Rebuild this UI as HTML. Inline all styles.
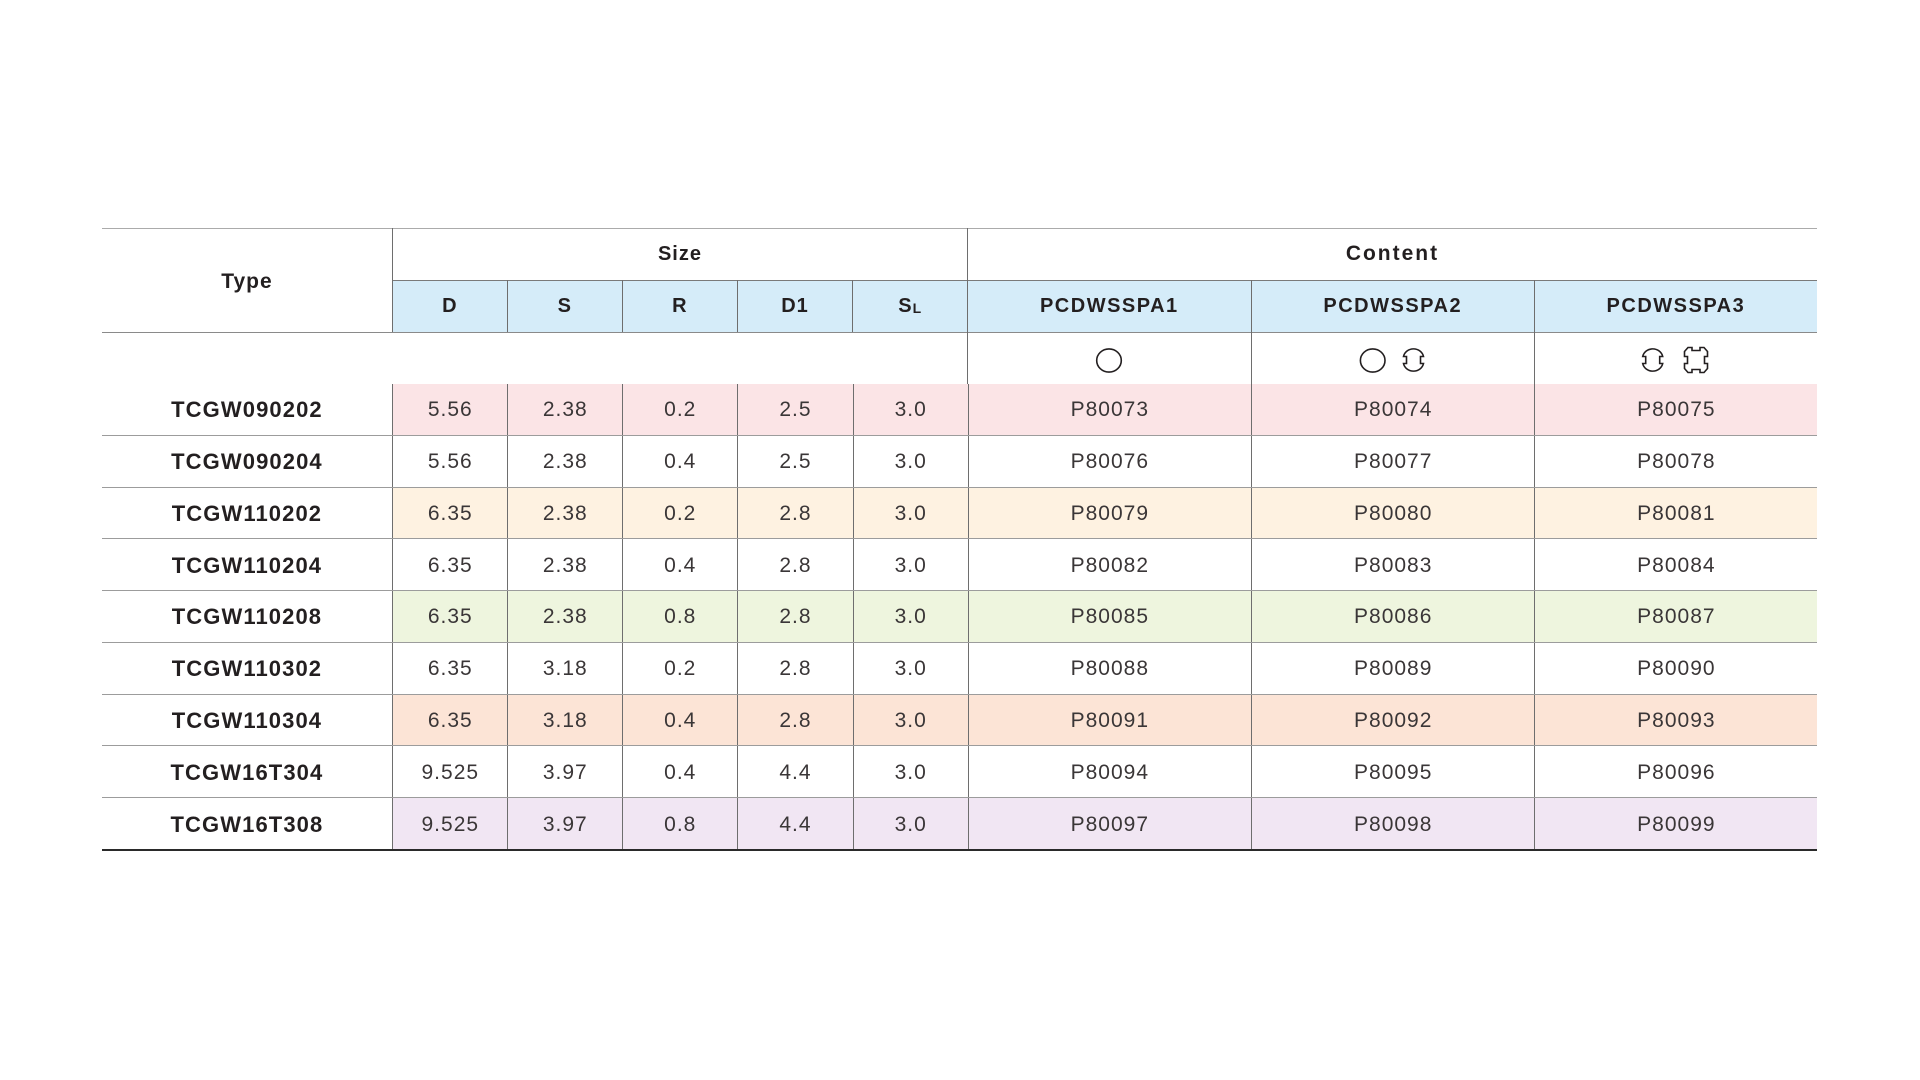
<!DOCTYPE html>
<html>
<head>
<meta charset="utf-8">
<style>
  html, body { margin:0; padding:0; background:#fff; }
  body { width:1920px; height:1080px; position:relative; overflow:hidden;
         font-family:"Liberation Sans", "DejaVu Sans", sans-serif; color:#231f20; }
  .abs { position:absolute; }
  .hl { position:absolute; height:1px; background:#a5a5a5; }
  .vl { position:absolute; width:1px; background:#6e6e6e; }
  .c { position:absolute; display:flex; align-items:center; justify-content:center; box-sizing:border-box; white-space:nowrap; }
  .hb { font-weight:bold; font-size:20px; letter-spacing:1px; }
  .row { position:absolute; left:101.6px; width:1715.7px; height:51.75px; display:grid;
         grid-template-columns:290.7px 115px 115px 115px 115.4px 115px 283.3px 283.5px 282.8px;
         box-sizing:border-box; border-bottom:1px solid #9c9c9c; }
  .row > div { display:flex; align-items:center; justify-content:center; box-sizing:border-box;
               border-left:1px solid #6e6e6e; font-size:21px; letter-spacing:1px; color:#3a3637; padding-top:2px; }
  .row > div:first-child { border-left:none; background:#fff !important; font-weight:bold; font-size:22px; letter-spacing:1.1px; color:#231f20; }
  .pink > div { background:#fbe4e6; }
  .yel > div { background:#fef2e1; }
  .grn > div { background:#eef5de; }
  .pch > div { background:#fce4d6; }
  .lav > div { background:#f1e6f3; }
  .last { border-bottom:2px solid #2a2a2a; }
</style>
</head>
<body>

<!-- header backgrounds -->
<div class="abs" style="left:392.3px; top:280.4px; width:1425px; height:51.6px; background:#d5ecf9;"></div>

<!-- header horizontal lines -->
<div class="hl" style="left:101.6px; top:227.5px; width:1715.7px; background:#ababab;"></div>
<div class="hl" style="left:392.3px; top:280px; width:1425px; background:#7a7a7a;"></div>
<div class="hl" style="left:101.6px; top:331.5px; width:1715.7px; background:#8a8a8a;"></div>
<div class="hl" style="left:101.6px; top:383.5px; width:1715.7px; background:#9c9c9c;"></div>

<!-- header vertical lines -->
<div class="vl" style="left:392px; top:228px; height:104px;"></div>
<div class="vl" style="left:967.4px; top:228px; height:156px;"></div>
<div class="vl" style="left:507px; top:280.4px; height:51.6px;"></div>
<div class="vl" style="left:622px; top:280.4px; height:51.6px;"></div>
<div class="vl" style="left:737px; top:280.4px; height:51.6px;"></div>
<div class="vl" style="left:852.4px; top:280.4px; height:51.6px;"></div>
<div class="vl" style="left:1250.7px; top:280.4px; height:103.6px;"></div>
<div class="vl" style="left:1534.2px; top:280.4px; height:103.6px;"></div>

<!-- header texts -->
<div class="c hb" style="left:101.6px; top:230px; width:290.7px; height:104px; font-size:21px;">Type</div>
<div class="c hb" style="left:392.3px; top:228px; width:575.4px; height:52px;">Size</div>
<div class="c hb" style="left:967.7px; top:228px; width:849.6px; height:52px; font-size:21px; letter-spacing:2px;">Content</div>

<div class="c hb" style="left:392.3px; top:280.4px; width:115px; height:51.6px;">D</div>
<div class="c hb" style="left:507.3px; top:280.4px; width:115px; height:51.6px;">S</div>
<div class="c hb" style="left:622.3px; top:280.4px; width:115px; height:51.6px;">R</div>
<div class="c hb" style="left:737.3px; top:280.4px; width:115.4px; height:51.6px;">D1</div>
<div class="c hb" style="left:852.7px; top:280.4px; width:115px; height:51.6px;">S<span style="font-size:14px; margin-top:4px;">L</span></div>
<div class="c hb" style="left:967.7px; top:280.4px; width:283.3px; height:51.6px; letter-spacing:1.5px;">PCDWSSPA1</div>
<div class="c hb" style="left:1251px; top:280.4px; width:283.5px; height:51.6px; letter-spacing:1.5px;">PCDWSSPA2</div>
<div class="c hb" style="left:1534.5px; top:280.4px; width:282.8px; height:51.6px; letter-spacing:1.5px;">PCDWSSPA3</div>

<!-- icons -->
<svg class="abs" style="left:0; top:0;" width="1920" height="1080" viewBox="0 0 1920 1080">
  <g fill="none" stroke="#231f20" stroke-width="1.6">
    <ellipse cx="1109" cy="360.5" rx="12.3" ry="11.6"/>
    <ellipse cx="1372.7" cy="360.5" rx="12.3" ry="11.6"/>
    <g transform="translate(1413.5,360)">
      <path d="M -10,-3.5 A 10.2 9.5 0 0 1 10,-3.5 L 7,-3.5 L 7,3.5 L 10,3.5 A 10.2 9.5 0 0 1 -10,3.5 L -7,3.5 L -7,-3.5 Z"/>
    </g>
    <g transform="translate(1652.7,360)">
      <path d="M -10,-3.5 A 10.2 9.5 0 0 1 10,-3.5 L 7,-3.5 L 7,3.5 L 10,3.5 A 10.2 9.5 0 0 1 -10,3.5 L -7,3.5 L -7,-3.5 Z"/>
    </g>
    <g transform="translate(1696,360)">
      <path d="M -8,-12.5 L -4,-12.5 L -4,-9.5 L 4,-9.5 L 4,-12.5 L 8,-12.5 L 11.5,-8.5 L 11.5,-3.5 L 8.5,-3.5 L 8.5,3.5 L 11.5,3.5 L 11.5,8.5 L 8,12.5 L 4,12.5 L 4,9.5 L -4,9.5 L -4,12.5 L -8,12.5 L -11.5,8.5 L -11.5,3.5 L -8.5,3.5 L -8.5,-3.5 L -11.5,-3.5 L -11.5,-8.5 Z"/>
    </g>
  </g>
</svg>

<!-- data rows -->
<div class="row pink" style="top:384px;"><div>TCGW090202</div><div>5.56</div><div>2.38</div><div>0.2</div><div>2.5</div><div>3.0</div><div>P80073</div><div>P80074</div><div>P80075</div></div>
<div class="row" style="top:435.75px;"><div>TCGW090204</div><div>5.56</div><div>2.38</div><div>0.4</div><div>2.5</div><div>3.0</div><div>P80076</div><div>P80077</div><div>P80078</div></div>
<div class="row yel" style="top:487.5px;"><div>TCGW110202</div><div>6.35</div><div>2.38</div><div>0.2</div><div>2.8</div><div>3.0</div><div>P80079</div><div>P80080</div><div>P80081</div></div>
<div class="row" style="top:539.25px;"><div>TCGW110204</div><div>6.35</div><div>2.38</div><div>0.4</div><div>2.8</div><div>3.0</div><div>P80082</div><div>P80083</div><div>P80084</div></div>
<div class="row grn" style="top:591px;"><div>TCGW110208</div><div>6.35</div><div>2.38</div><div>0.8</div><div>2.8</div><div>3.0</div><div>P80085</div><div>P80086</div><div>P80087</div></div>
<div class="row" style="top:642.75px;"><div>TCGW110302</div><div>6.35</div><div>3.18</div><div>0.2</div><div>2.8</div><div>3.0</div><div>P80088</div><div>P80089</div><div>P80090</div></div>
<div class="row pch" style="top:694.5px;"><div>TCGW110304</div><div>6.35</div><div>3.18</div><div>0.4</div><div>2.8</div><div>3.0</div><div>P80091</div><div>P80092</div><div>P80093</div></div>
<div class="row" style="top:746.25px;"><div>TCGW16T304</div><div>9.525</div><div>3.97</div><div>0.4</div><div>4.4</div><div>3.0</div><div>P80094</div><div>P80095</div><div>P80096</div></div>
<div class="row lav last" style="top:798px; height:53px;"><div>TCGW16T308</div><div>9.525</div><div>3.97</div><div>0.8</div><div>4.4</div><div>3.0</div><div>P80097</div><div>P80098</div><div>P80099</div></div>

</body>
</html>
